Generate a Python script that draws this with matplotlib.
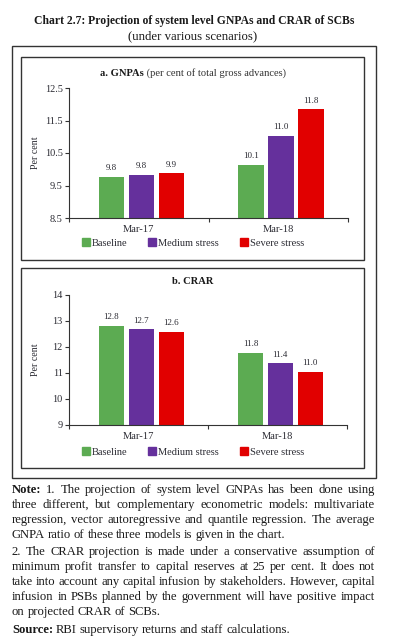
import numpy as np
import matplotlib
matplotlib.use("Agg")
import matplotlib.pyplot as plt
from matplotlib.patches import Rectangle, Patch

plt.rcParams['font.family'] = ['Liberation Serif', 'DejaVu Serif']

# ---- data ----
periods = ["Mar-17", "Mar-18"]
scenarios = ["Baseline", "Medium stress", "Severe stress"]
gnpa = {"Baseline": [9.77, 10.13], "Medium stress": [9.83, 11.03], "Severe stress": [9.88, 11.84]}
crar = {"Baseline": [12.81, 11.77], "Medium stress": [12.69, 11.38], "Severe stress": [12.58, 11.04]}
gnpa_ticks = [8.5, 9.5, 10.5, 11.5, 12.5]
crar_ticks = [9, 10, 11, 12, 13, 14]

COLORS = {"Baseline": "#5cab52", "Medium stress": "#65309c", "Severe stress": "#e10000"}
TXT = "#2b2b33"
W, H = 396, 643

fig = plt.figure(figsize=(W/100, H/100), dpi=100)

def fx(px): return px / W
def fy(py): return 1 - py / H

def box(x0, y0, x1, y1, lw=1.0):
    fig.patches.append(Rectangle((fx(x0), fy(y1)), fx(x1) - fx(x0), fy(y0) - fy(y1),
                                 transform=fig.transFigure, fill=False, ec="#333333", lw=lw))

fig.text(fx(194), fy(21), "Chart 2.7: Projection of system level GNPAs and CRAR of SCBs",
         ha="center", va="center", fontsize=8.4, weight="bold", color="#1a1a1a")
fig.text(fx(193), fy(36), "(under various scenarios)", ha="center", va="center", fontsize=9.2, color="#1a1a1a")

box(12, 46, 376, 478, lw=1.0)
box(21, 57, 364, 260, lw=1.0)
box(21, 268, 364, 468, lw=1.0)

def panel(rect_px, data, ticks, fmt_ylim, title_parts, title_y, leg_y):
    x0, y0, x1, y1 = rect_px
    ax = fig.add_axes([fx(x0), fy(y1), fx(x1) - fx(x0), fy(y0) - fy(y1)])
    xs = np.arange(len(periods))
    bw, off = 0.18, 0.215
    for i, s in enumerate(scenarios):
        vals = data[s]
        bars = ax.bar(xs + (i - 1) * off + 0.02, vals, width=bw, color=COLORS[s], label=s, zorder=2)
        for b, v in zip(bars, vals):
            ax.text(b.get_x() + b.get_width() / 2, v + (ticks[-1] - ticks[0]) * 0.035, f"{v:.1f}",
                    ha="center", va="bottom", fontsize=6.5, color=TXT)
    ax.set_xlim(-0.5, len(periods) - 0.5)
    ax.set_ylim(ticks[0], ticks[-1])
    ax.set_yticks(ticks)
    ax.set_yticklabels([fmt_ylim(t) for t in ticks], fontsize=7.4, color=TXT)
    ax.set_xticks(xs)
    ax.set_xticklabels(periods, fontsize=7.6, color=TXT)
    ax.set_xticks([-0.5, 0.5, 1.5], minor=True)
    ax.tick_params(axis="x", which="major", length=0, pad=5)
    ax.tick_params(axis="x", which="minor", length=3, width=0.8, color="#333333")
    ax.tick_params(axis="y", length=3, width=0.8, color="#333333", pad=1.5)
    for sp in ["top", "right"]:
        ax.spines[sp].set_visible(False)
    for sp in ["left", "bottom"]:
        ax.spines[sp].set_color("#333333")
        ax.spines[sp].set_linewidth(0.8)
    ax.set_ylabel("Per cent", fontsize=7.2, color=TXT, labelpad=4)
    ax.yaxis.set_label_coords(-0.105, 0.5, transform=ax.transAxes)
    ax.set_facecolor("none")
    # title
    if len(title_parts) == 2:
        t1 = fig.text(0, fy(title_y), title_parts[0], ha="left", va="center", fontsize=7.6, weight="bold", color="#1a1a1a")
        t2 = fig.text(0, fy(title_y), " " + title_parts[1], ha="left", va="center", fontsize=7.6, color="#333333")
        r = fig.canvas.get_renderer()
        w1 = t1.get_window_extent(r).width
        w2 = t2.get_window_extent(r).width
        start = 193 - (w1 + w2) / 2
        t1.set_x(fx(start)); t2.set_x(fx(start + w1))
    else:
        fig.text(fx(193), fy(title_y), title_parts[0], ha="center", va="center", fontsize=7.6,
                 weight="bold", color="#1a1a1a")
    handles = [Patch(color=COLORS[s], label=s) for s in scenarios]
    fig.legend(handles=handles, loc="center", bbox_to_anchor=(fx(193), fy(leg_y)), ncol=3, frameon=False,
               fontsize=7.5, handlelength=0.75, handleheight=0.75, handletextpad=0.2, columnspacing=2.0,
               labelcolor=TXT)
    return ax

panel((69, 88, 348, 218), gnpa, gnpa_ticks, lambda t: f"{t:.1f}",
      ["a. GNPAs", "(per cent of total gross advances)"], 73, 243)
panel((69, 295, 347, 425), crar, crar_ticks, lambda t: f"{t:g}", ["b. CRAR"], 282, 452)

# ---- notes, justified ----
note_lines = [
    ([("Note:", True), ("1.", False), ("The", False), ("projection", False), ("of", False), ("system", False),
      ("level", False), ("GNPAs", False), ("has", False), ("been", False), ("done", False), ("using", False)], True),
    ("three different, but complementary econometric models: multivariate", True),
    ("regression, vector autoregressive and quantile regression. The average", True),
    ("GNPA ratio of these three models is given in the chart.", False),
    ("2. The CRAR projection is made under a conservative assumption of", True),
    ("minimum profit transfer to capital reserves at 25 per cent. It does not", True),
    ("take into account any capital infusion by stakeholders. However, capital", True),
    ("infusion in PSBs planned by the government will have positive impact", True),
    ("on projected CRAR of SCBs.", False),
    ([("Source:", True), ("RBI", False), ("supervisory", False), ("returns", False), ("and", False),
      ("staff", False), ("calculations.", False)], False),
]
line_y = [490, 505, 520, 535, 552, 567, 582, 597, 612, 630]
LEFT, RIGHT = 12, 375
renderer = fig.canvas.get_renderer()
for (content, justify), yy in zip(note_lines, line_y):
    words = content if isinstance(content, list) else [(w, False) for w in content.split()]
    objs = [fig.text(0, fy(yy), w, ha="left", va="center", fontsize=9.1,
                     weight="bold" if b else "normal", color="#1a1a1a") for w, b in words]
    widths = [o.get_window_extent(renderer).width for o in objs]
    if justify:
        gap = (RIGHT - LEFT - sum(widths)) / (len(objs) - 1)
    else:
        gap = 2.8
    x = LEFT
    for o, w in zip(objs, widths):
        o.set_x(fx(x))
        x += w + gap

fig.savefig("out.png", dpi=100)
